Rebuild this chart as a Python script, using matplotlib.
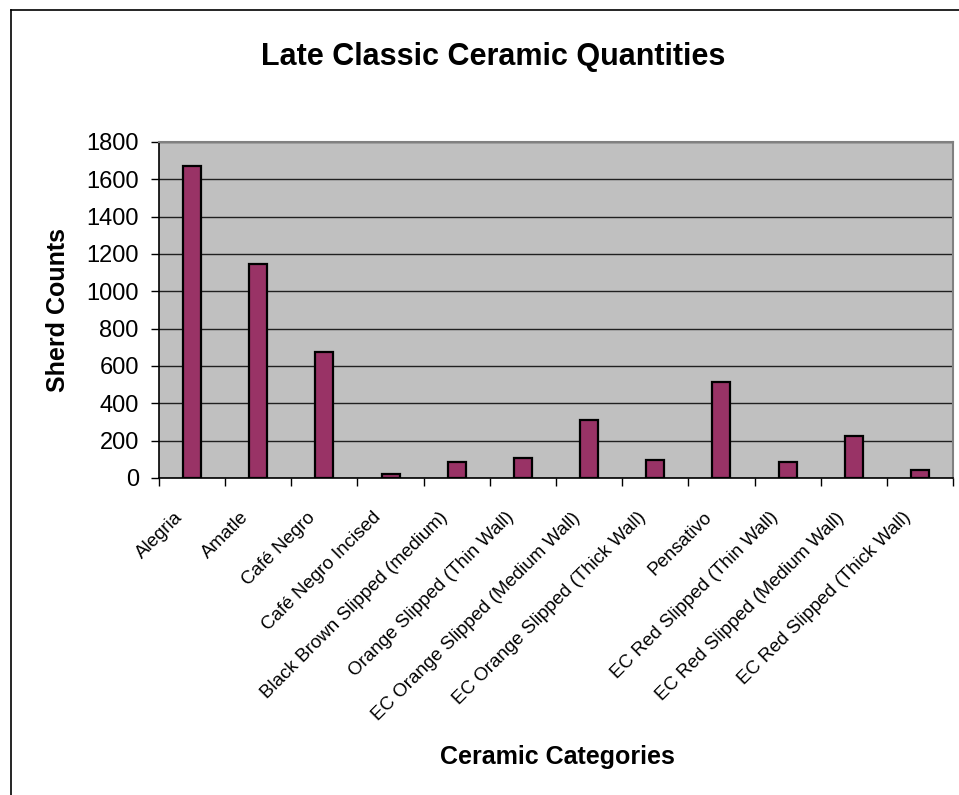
import matplotlib
matplotlib.use("Agg")
import matplotlib.pyplot as plt
from matplotlib import font_manager
from matplotlib.lines import Line2D
from matplotlib.transforms import ScaledTranslation, blended_transform_factory
import numpy as np

categories = [
    "Alegria", "Amatle", "Café Negro", "Café Negro Incised",
    "Black Brown Slipped (medium)", "Orange Slipped (Thin Wall)",
    "EC Orange Slipped (Medium Wall)", "EC Orange Slipped (Thick Wall)",
    "Pensativo", "EC Red Slipped (Thin Wall)", "EC Red Slipped (Medium Wall)",
    "EC Red Slipped (Thick Wall)",
]
sherd_counts = [1671, 1146, 675, 21, 84, 105, 313, 96, 516, 86, 227, 43]
y_ticks = [0, 200, 400, 600, 800, 1000, 1200, 1400, 1600, 1800]

available = {f.name for f in font_manager.fontManager.ttflist}
narrow = "Liberation Sans Narrow" if "Liberation Sans Narrow" in available else "Liberation Sans"
plt.rcParams["font.family"] = ["Liberation Sans", "DejaVu Sans"]

W, H = 959, 795
fig = plt.figure(figsize=(W / 100, H / 100), dpi=100)
fig.patch.set_facecolor("white")

# chart border (left and top edges)
fig.add_artist(Line2D([11 / W, 11 / W], [0, 1 - 10 / H], transform=fig.transFigure,
                      color="black", lw=1.2))
fig.add_artist(Line2D([11 / W, 1], [1 - 10 / H, 1 - 10 / H], transform=fig.transFigure,
                      color="black", lw=1.2))

left, right, top, bottom = 159, 953, 142, 478
ax = fig.add_axes([left / W, 1 - bottom / H, (right - left) / W, (bottom - top) / H])
ax.set_facecolor("#C0C0C0")

x = np.arange(len(categories))
ax.bar(x, sherd_counts, width=0.27, color="#993366", edgecolor="black", linewidth=1.6,
       zorder=3)

ax.set_xlim(-0.5, len(categories) - 0.5)
ax.set_ylim(0, 1800)
ax.set_yticks(y_ticks)
ax.set_yticklabels([str(v) for v in y_ticks], fontsize=17)
ax.yaxis.grid(True, color="#202020", linewidth=1.0, zorder=1)
ax.set_axisbelow(True)

# boundary ticks between categories; category names are placed as rotated text
ax.set_xticks(np.arange(len(categories) + 1) - 0.5)
ax.set_xticklabels([])
ax.tick_params(axis="x", which="major", direction="out", length=6, width=1, color="black")
ax.tick_params(axis="y", direction="out", length=5.5, width=1, color="black", pad=9)

label_tf = blended_transform_factory(ax.transData, ax.transAxes) + \
    ScaledTranslation(-0.12, -0.37, fig.dpi_scale_trans)
for xi, name in zip(x, categories):
    ax.text(xi, 0, name, transform=label_tf, rotation=45, rotation_mode="anchor",
            ha="right", va="center", fontsize=13.5, family=narrow, clip_on=False)

for side in ("left", "bottom"):
    ax.spines[side].set_color("black")
    ax.spines[side].set_linewidth(1.2)
for side in ("top", "right"):
    ax.spines[side].set_color("#808080")
    ax.spines[side].set_linewidth(1.5)

fig.text(493 / W, 1 - 57 / H, "Late Classic Ceramic Quantities", ha="center", va="center",
         fontsize=22, fontweight="bold")
fig.text(58 / W, 1 - 310 / H, "Sherd Counts", ha="center", va="center", rotation=90,
         fontsize=18, fontweight="bold")
fig.text(557 / W, 1 - 757 / H, "Ceramic Categories", ha="center", va="center",
         fontsize=18, fontweight="bold")

fig.savefig("out.png", dpi=100, facecolor="white")
